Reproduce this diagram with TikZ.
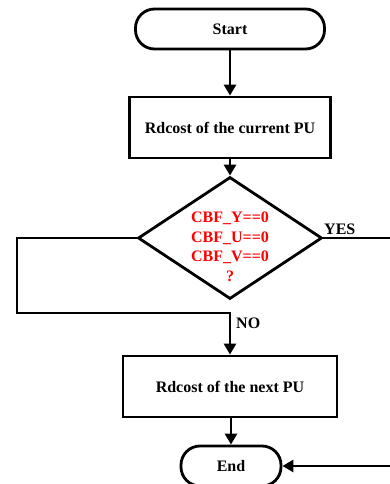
\documentclass[tikz,border=0pt]{standalone}
\usepackage{fontspec}
\setmainfont{Liberation Serif}
\usetikzlibrary{arrows.meta,shapes.geometric}
\begin{document}
\begin{tikzpicture}[x=1pt,y=-1pt,
  every node/.style={font=\fontsize{16}{19.5}\selectfont\bfseries},
  line/.style={line width=2.8pt},
  arr/.style={line/.try, line width=2.8pt, -{Triangle[length=11pt,width=12pt]}},
  term/.style={draw, line width=2.8pt, rectangle, rounded corners=19pt, minimum height=40pt},
  proc/.style={draw, line width=2.8pt, rectangle, minimum height=61pt},
  decide/.style={draw, line width=2.8pt, diamond, inner sep=0pt, minimum width=184pt, minimum height=122pt}]
  \useasboundingbox (0,0) rectangle (390,484);
  \clip (0,0) rectangle (390,484);

  % flowchart blocks
  \node[term, minimum width=189pt] (start) at (230,29) {Start};
  \node[proc, minimum width=201pt] (b1) at (230,127.5) {Rdcost of the current PU};
  \node[decide] (dec) at (230,238) {};
  \node[text=red, align=center, inner sep=0pt] (cond) at (230,247)
    {CBF\_Y==0\\CBF\_U==0\\CBF\_V==0\\?};
  \node[proc, minimum width=214pt] (b2) at (230,386.5) {Rdcost of the next PU};
  \node[term, minimum width=100pt] (end) at (231,466) {End};

  % routing points of the branches
  \coordinate (nl) at (17,313);
  \coordinate (yr) at (400,466);

  % branch labels
  \node[anchor=south west, inner sep=0pt] (yes) at (324,235) {YES};
  \node[anchor=west, inner sep=0pt] (no) at (236,323) {NO};

  % connectors
  \draw[arr] (start) -- (b1);
  \draw[arr] (b1) -- (dec);
  \draw[arr] (dec.west) -| (nl) -| (b2.north);
  \draw[arr] (b2.south -| end.north) -- (end);
  \draw[arr] (dec.east) -| (yr) -- (end.east);
\end{tikzpicture}
\end{document}
